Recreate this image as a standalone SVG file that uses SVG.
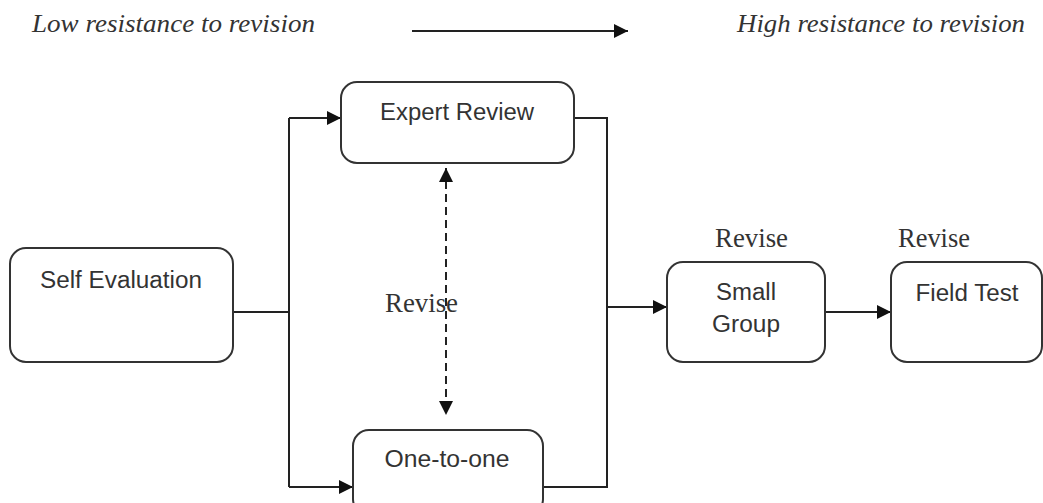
<svg xmlns="http://www.w3.org/2000/svg" width="1043" height="503" viewBox="0 0 1043 503">
<style>
.box{fill:#fff;stroke:#333;stroke-width:2}
.lbl{font-family:"Liberation Sans",Arial,sans-serif;font-size:23px;fill:#333;text-anchor:middle}
.rev{font-family:"Liberation Serif","Times New Roman",serif;font-size:27px;fill:#333}
.hdr{font-family:"Liberation Serif","Times New Roman",serif;font-style:italic;font-size:25px;fill:#333}
.ln{fill:none;stroke:#222;stroke-width:2}
.dash{fill:none;stroke:#222;stroke-width:2;stroke-dasharray:8 5}
</style>
<defs>
<marker id="ah" viewBox="0 0 10 10" refX="10" refY="5" markerWidth="14" markerHeight="14" markerUnits="userSpaceOnUse" orient="auto-start-reverse">
<path d="M0,0 L10,5 L0,10 z" fill="#111"/>
</marker>
</defs>
<g id="header">
<text class="hdr" x="32" y="32" textLength="283" lengthAdjust="spacingAndGlyphs">Low resistance to revision</text>
<text class="hdr" x="737" y="32" textLength="288" lengthAdjust="spacingAndGlyphs">High resistance to revision</text>
<line class="ln" x1="412" y1="31" x2="628" y2="31" marker-end="url(#ah)"/>
</g>
<g id="connectors">
<polyline class="ln" points="233,312 289,312"/>
<polyline class="ln" points="289,118 289,487"/>
<line class="ln" x1="289" y1="118" x2="341" y2="118" marker-end="url(#ah)"/>
<line class="ln" x1="289" y1="487" x2="353" y2="487" marker-end="url(#ah)"/>
<polyline class="ln" points="574,118 607,118 607,487 543,487"/>
<line class="ln" x1="607" y1="307" x2="667" y2="307" marker-end="url(#ah)"/>
<line class="ln" x1="825" y1="312" x2="891" y2="312" marker-end="url(#ah)"/>
<line class="dash" x1="446" y1="168" x2="446" y2="415" marker-start="url(#ah)" marker-end="url(#ah)"/>
</g>
<g id="self-evaluation">
<rect class="box" x="10" y="248" width="223" height="114" rx="16"/>
<text class="lbl" x="121" y="288" textLength="162" lengthAdjust="spacingAndGlyphs">Self Evaluation</text>
</g>
<g id="expert-review">
<rect class="box" x="341" y="82" width="233" height="81" rx="16"/>
<text class="lbl" x="457" y="120" textLength="154" lengthAdjust="spacingAndGlyphs">Expert Review</text>
</g>
<g id="one-to-one">
<rect class="box" x="353" y="430" width="190" height="85" rx="16"/>
<text class="lbl" x="447" y="467" textLength="125" lengthAdjust="spacingAndGlyphs">One-to-one</text>
</g>
<g id="small-group">
<rect class="box" x="667" y="262" width="158" height="100" rx="16"/>
<text class="lbl" x="746" y="300" textLength="60" lengthAdjust="spacingAndGlyphs">Small</text>
<text class="lbl" x="746" y="332" textLength="68" lengthAdjust="spacingAndGlyphs">Group</text>
</g>
<g id="field-test">
<rect class="box" x="891" y="262" width="151" height="100" rx="16"/>
<text class="lbl" x="967" y="301" textLength="103" lengthAdjust="spacingAndGlyphs">Field Test</text>
</g>
<g id="revise-labels">
<text class="rev" x="385" y="312" textLength="73" lengthAdjust="spacingAndGlyphs">Revise</text>
<text class="rev" x="715" y="247" textLength="73" lengthAdjust="spacingAndGlyphs">Revise</text>
<text class="rev" x="898" y="247" textLength="72" lengthAdjust="spacingAndGlyphs">Revise</text>
</g>
</svg>
